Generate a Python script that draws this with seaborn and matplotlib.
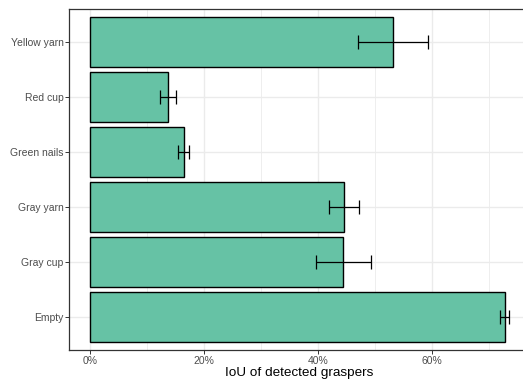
import matplotlib
matplotlib.use("Agg")
import matplotlib.pyplot as plt
import matplotlib.ticker as mticker
import seaborn as sns
import pandas as pd
import numpy as np

categories = ["Yellow yarn", "Red cup", "Green nails", "Gray yarn", "Gray cup", "Empty"]
iou = [53.2, 13.7, 16.4, 44.6, 44.4, 72.8]
err_low = [47.0, 12.3, 15.4, 41.9, 39.6, 71.9]
err_high = [59.3, 15.0, 17.4, 47.2, 49.2, 73.5]
x_ticks = [0, 20, 40, 60]
x_minor = [10, 30, 50, 70]

df = pd.DataFrame({"cat": categories, "iou": iou, "lo": err_low, "hi": err_high})

sns.set_theme(style="white")
plt.rcParams["font.family"] = ["Liberation Sans", "DejaVu Sans"]

fig = plt.figure(figsize=(5.23, 3.79), dpi=100)
ax = fig.add_axes([69.3 / 523, 1 - 350 / 379, (530 - 69.3) / 523, (350 - 9) / 379])

sns.barplot(data=df, x="iou", y="cat", order=categories, orient="h",
            color="#66C2A5", saturation=1, edgecolor="black", linewidth=1.0,
            width=0.9, errorbar=None, ax=ax, zorder=2)

ypos = np.arange(len(categories))
ax.errorbar(df["iou"], ypos,
            xerr=[df["iou"] - df["lo"], df["hi"] - df["iou"]],
            fmt="none", ecolor="black", elinewidth=0.9, capsize=4.7,
            capthick=0.9, zorder=3)

xmax = max(err_high)
pad = 0.05 * xmax
ax.set_xlim(-pad, xmax + pad)
ax.set_ylim(len(categories) - 0.4, -0.6)

ax.set_xticks(x_ticks)
ax.set_xticks(x_minor, minor=True)
ax.xaxis.set_major_formatter(mticker.FuncFormatter(lambda v, p: f"{v:.0f}%"))
ax.grid(True, which="major", color="#EBEBEB", linewidth=1.0, zorder=0)
ax.grid(True, which="minor", axis="x", color="#EBEBEB", linewidth=0.6, zorder=0)
ax.set_axisbelow(True)

for s in ax.spines.values():
    s.set_color("#333333")
    s.set_linewidth(0.9)

ax.tick_params(axis="both", which="major", length=3, width=0.7, color="#333333",
               labelsize=7.5, labelcolor="#4D4D4D", pad=1.2, bottom=True, left=True)
ax.tick_params(axis="x", which="minor", length=0)

ax.set_ylabel("")
ax.set_xlabel("IoU of detected graspers", fontsize=9.7, color="black", labelpad=0.5)

fig.savefig("out.png", dpi=100)
